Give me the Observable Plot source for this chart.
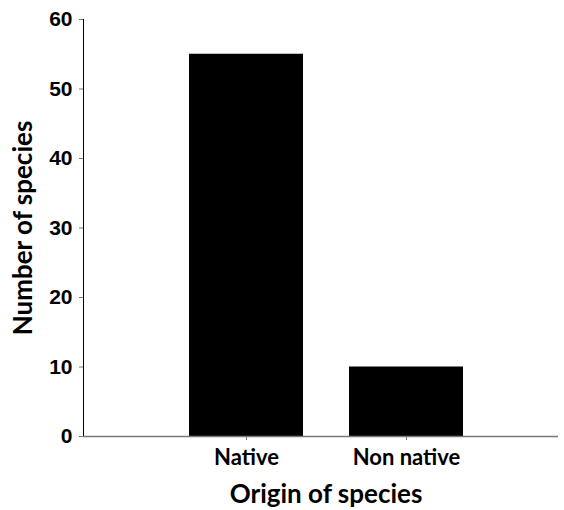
<!DOCTYPE html>
<html>
<head>
<meta charset="utf-8">
<script src="https://cdn.jsdelivr.net/npm/d3@7"></script>
<script src="https://cdn.jsdelivr.net/npm/@observablehq/plot@0.6"></script>
<style>
  html, body { margin: 0; padding: 0; background: white; }
</style>
</head>
<body>
<div id="chart"></div>
<script>
const categories = ["Native", "Non native"];
const counts = [55, 10];
const yTicks = [0, 10, 20, 30, 40, 50, 60];
const xLabel = "Origin of species";
const yLabel = "Number of species";

const data = categories.map((c, i) => ({origin: c, count: counts[i]}));

const chart = Plot.plot({
  width: 564,
  height: 510,
  marginLeft: 83,
  marginRight: 6,
  marginTop: 19,
  marginBottom: 74,
  style: {background: "white", color: "black", fontFamily: "Liberation Sans, Arial, sans-serif"},
  x: {
    domain: categories,
    range: [188, 463],
    paddingInner: 0.29,
    paddingOuter: 0,
    tickSize: 4,
    tickPadding: 9,
    label: null
  },
  y: {
    domain: [0, 60],
    ticks: yTicks,
    tickSize: 4,
    tickPadding: 7,
    line: true,
    label: null
  },
  marks: [
    Plot.barY(data, {x: "origin", y: "count", fill: "black"}),
    Plot.ruleY([0], {stroke: "#777", strokeWidth: 1.5}),
    Plot.text([xLabel], {frameAnchor: "bottom", dy: 66, dx: 5, fontFamily: "Lato", fontWeight: "bold", fontSize: 26, fill: "black"}),
    Plot.text([yLabel], {frameAnchor: "left", textAnchor: "middle", dx: -60, rotate: -90, fontFamily: "Lato", fontWeight: "bold", fontSize: 26, fill: "black"})
  ]
});

const svg = d3.select(chart);
svg.selectAll('g[aria-label="y-axis tick label"]')
  .style("font-family", "Liberation Sans, Arial, sans-serif")
  .style("font-weight", "bold")
  .style("font-size", "21px")
  .style("fill", "black");
svg.selectAll('g[aria-label="x-axis tick label"]')
  .style("font-family", "Lato")
  .style("font-weight", "bold")
  .style("font-size", "22px")
  .style("fill", "black");
svg.selectAll('g[aria-label="y-axis tick"], g[aria-label="x-axis tick"], g[aria-label="y-axis line"]')
  .attr("stroke", "#777");

document.getElementById("chart").appendChild(chart);
</script>
</body>
</html>
